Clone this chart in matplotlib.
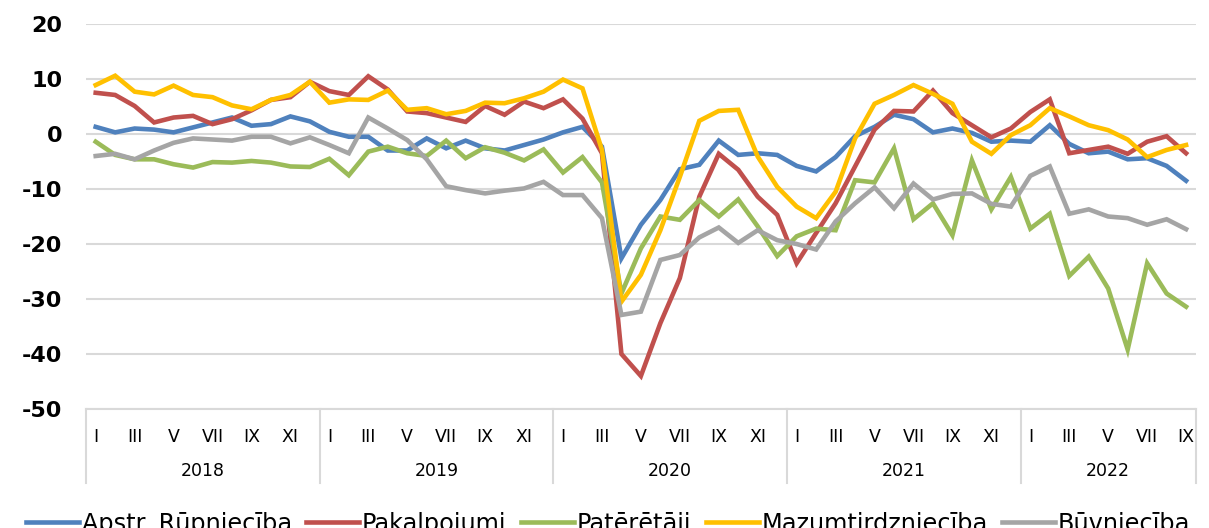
import matplotlib
matplotlib.use('Agg')
import matplotlib.pyplot as plt
import matplotlib.transforms as mtransforms
import numpy as np

# monthly sentiment indicators, I.2018 - IX.2022
years = ['2018', '2019', '2020', '2021', '2022']
months_per_year = [12, 12, 12, 12, 9]
month_names = ['I', 'II', 'III', 'IV', 'V', 'VI', 'VII', 'VIII', 'IX', 'X', 'XI', 'XII']

industry = [1.3, 0.3, 1.0, 0.8, 0.3, 1.2, 2.1, 3.0, 1.5, 1.8, 3.2, 2.3,
            0.4, -0.5, -0.5, -3.0, -3.0, -0.8, -2.6, -1.2, -2.6, -3.0, -2.0, -1.0,
            0.3, 1.3, -2.3, -22.6, -16.5, -12.0, -6.4, -5.6, -1.2, -3.8, -3.5, -3.8,
            -5.8, -6.8, -4.2, -0.4, 1.3, 3.5, 2.7, 0.3, 1.0, 0.2, -1.4, -1.2,
            -1.4, 1.6, -1.8, -3.5, -3.2, -4.6, -4.4, -5.8, -8.5]
services = [7.5, 7.1, 5.1, 2.1, 3.0, 3.3, 1.8, 2.7, 4.3, 6.2, 6.7, 9.5,
            7.8, 7.1, 10.5, 8.1, 4.1, 3.8, 3.0, 2.2, 5.1, 3.5, 5.9, 4.7,
            6.3, 2.8, -3.5, -40.0, -44.0, -34.4, -26.2, -11.4, -3.6, -6.5, -11.4, -14.7,
            -23.5, -18.0, -12.6, -5.9, 0.8, 4.2, 4.1, 7.9, 3.8, 1.6, -0.6, 1.0,
            4.0, 6.3, -3.5, -2.9, -2.3, -3.6, -1.4, -0.4, -3.5]
consumers = [-1.4, -3.8, -4.6, -4.6, -5.5, -6.1, -5.1, -5.2, -4.9, -5.2, -5.9, -6.0,
             -4.5, -7.5, -3.2, -2.3, -3.5, -4.0, -1.2, -4.4, -2.4, -3.4, -4.8, -2.8,
             -7.0, -4.2, -8.8, -29.0, -20.8, -15.0, -15.6, -12.0, -15.0, -11.9, -16.8, -22.2,
             -18.6, -17.2, -17.5, -8.4, -8.8, -2.6, -15.5, -12.6, -18.4, -4.8, -13.7, -7.8,
             -17.2, -14.5, -25.8, -22.3, -28.1, -39.2, -23.5, -29.0, -31.4]
retail = [8.9, 10.6, 7.7, 7.2, 8.8, 7.1, 6.7, 5.2, 4.5, 6.2, 7.1, 9.5,
          5.7, 6.3, 6.2, 7.9, 4.4, 4.7, 3.6, 4.2, 5.7, 5.6, 6.5, 7.7,
          9.9, 8.3, -2.9, -30.5, -25.6, -17.5, -7.8, 2.4, 4.2, 4.4, -4.1, -9.6,
          -13.2, -15.3, -10.5, -0.8, 5.5, 7.1, 8.9, 7.3, 5.5, -1.4, -3.6, -0.2,
          1.6, 4.7, 3.2, 1.6, 0.7, -1.0, -4.2, -2.9, -2.0]
construction = [-4.0, -3.6, -4.6, -3.0, -1.6, -0.8, -1.0, -1.2, -0.5, -0.5, -1.7, -0.6,
                -2.0, -3.5, 3.0, 1.0, -1.1, -4.6, -9.5, -10.2, -10.8, -10.3, -9.9, -8.7,
                -11.1, -11.1, -15.3, -32.9, -32.3, -22.9, -22.0, -18.8, -17.0, -19.8, -17.5, -19.3,
                -20.0, -21.0, -15.9, -12.6, -9.7, -13.5, -9.0, -11.9, -10.9, -10.8, -12.7, -13.2,
                -7.6, -5.9, -14.5, -13.7, -15.0, -15.3, -16.5, -15.5, -17.3]

series = [
    ('Apstr. Rūpniecība', industry, '#4f81bd'),
    ('Pakalpojumi', services, '#c0504d'),
    ('Patērētāji', consumers, '#9bbb59'),
    ('Mazumtirdzniecība', retail, '#ffc000'),
    ('Būvniecība', construction, '#a5a5a5'),
]

plt.rcParams['font.family'] = 'DejaVu Sans'
plt.rcParams['axes.unicode_minus'] = False

fig = plt.figure(figsize=(12.09, 5.28), dpi=100)
ax = fig.add_axes([0.0711, 0.2254, 0.918, 0.7291])

x = np.arange(sum(months_per_year))
for name, vals, col in series:
    ax.plot(x, vals, color=col, lw=3.3, label=name, solid_joinstyle='miter')

ax.set_xlim(-0.5, len(x) - 0.5)
ax.set_ylim(-50, 20)
ax.set_yticks(np.arange(-50, 21, 10))
ax.yaxis.grid(True, color='#d9d9d9', lw=1.5)
ax.set_axisbelow(True)
for s in ['top', 'right', 'left']:
    ax.spines[s].set_visible(False)
ax.spines['bottom'].set_color('#d9d9d9')
ax.spines['bottom'].set_linewidth(1.5)
ax.tick_params(axis='y', length=0, pad=17, labelsize=16)
for lab in ax.get_yticklabels():
    lab.set_fontweight('bold')

# month labels (every second month)
tick_pos, tick_lab = [], []
start = 0
for n in months_per_year:
    for m in range(0, n, 2):
        tick_pos.append(start + m)
        tick_lab.append(month_names[m])
    start += n
ax.set_xticks(tick_pos)
ax.set_xticklabels(tick_lab, fontsize=12.5)
ax.tick_params(axis='x', length=0, pad=14)

# year labels and separators
trans = mtransforms.blended_transform_factory(ax.transData, ax.transAxes)
sep_len = 74 / (0.7291 * 528)
start = 0
bounds = [-0.5]
for yr, n in zip(years, months_per_year):
    ax.text(start + (n - 1) / 2, -62 / (0.7291 * 528), yr, transform=trans,
            ha='center', va='center', fontsize=12.5)
    start += n
    bounds.append(start - 0.5)
for b in bounds:
    ax.plot([b, b], [0, -sep_len], transform=trans, color='#d9d9d9', lw=1.5,
            clip_on=False)

fig.legend(loc='center', bbox_to_anchor=(0.503, 0.008), ncol=5, frameon=False,
           fontsize=17.3, handlelength=2.2, handletextpad=0.12, columnspacing=0.6)

fig.savefig('out.png', dpi=100)
